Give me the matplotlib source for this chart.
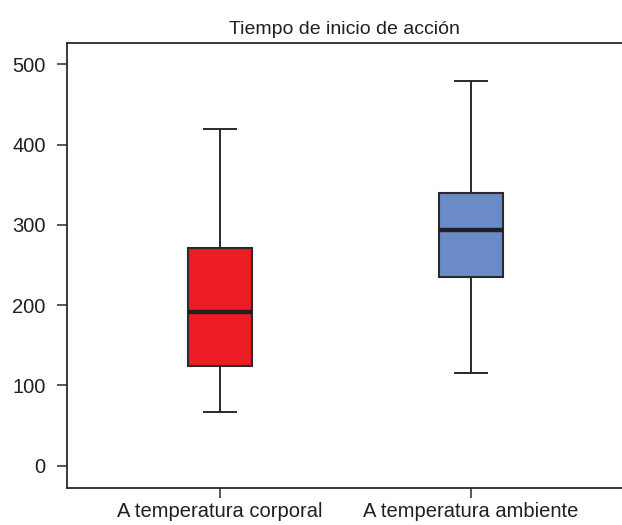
import matplotlib
matplotlib.use("Agg")
import matplotlib.pyplot as plt
from matplotlib import font_manager

names = {f.name for f in font_manager.fontManager.ttflist}
fam = "Liberation Sans Narrow" if "Liberation Sans Narrow" in names else "Liberation Sans"
plt.rcParams['font.family'] = [fam, 'DejaVu Sans']

categories = ["A temperatura corporal", "A temperatura ambiente"]
whislo = [67, 115]
q1 = [124, 235]
med = [191, 293]
q3 = [271, 339]
whishi = [419, 479]
colors = ["#ED1C24", "#6A8BC6"]
yticks = [0, 100, 200, 300, 400, 500]
title = "Tiempo de inicio de acción"

stats = [dict(whislo=whislo[i], q1=q1[i], med=med[i], q3=q3[i], whishi=whishi[i],
              fliers=[], label=categories[i]) for i in range(len(categories))]

fig = plt.figure(figsize=(6.22, 5.25), dpi=100)
ax = fig.add_axes([66.7/622, 1-488/525, 1-66.7/622, (488-42.7)/525])

bp = ax.bxp(stats, positions=[1, 2], widths=0.255, patch_artist=True, showfliers=False,
            boxprops=dict(edgecolor="#2a2a2e", linewidth=1.5),
            medianprops=dict(color="#231F20", linewidth=3.2, solid_capstyle="butt"),
            whiskerprops=dict(color="#2a2a2a", linewidth=1.4),
            capprops=dict(color="#2a2a2a", linewidth=1.4),
            capwidths=0.128)
for patch, c in zip(bp['boxes'], colors):
    patch.set_facecolor(c)

ax.set_xlim(0.389, 2.602)
ax.set_ylim(-27.8, 526.8)
ax.set_yticks(yticks)
ax.set_yticklabels([str(v) for v in yticks])
ax.set_xticks([1, 2])
ax.set_xticklabels(categories)
ax.spines['right'].set_visible(False)
for s in ['left', 'bottom', 'top']:
    ax.spines[s].set_linewidth(1.3)
    ax.spines[s].set_color("#2a2a2a")
ax.tick_params(axis='both', direction='out', length=7, width=1.1, color="#2a2a2a",
               labelsize=14.5, labelcolor="#231F20", pad=8)
ax.tick_params(axis='x', pad=3)
ax.set_title(title, fontsize=14, color="#231F20", pad=6)

fig.savefig("out.png", dpi=100)
